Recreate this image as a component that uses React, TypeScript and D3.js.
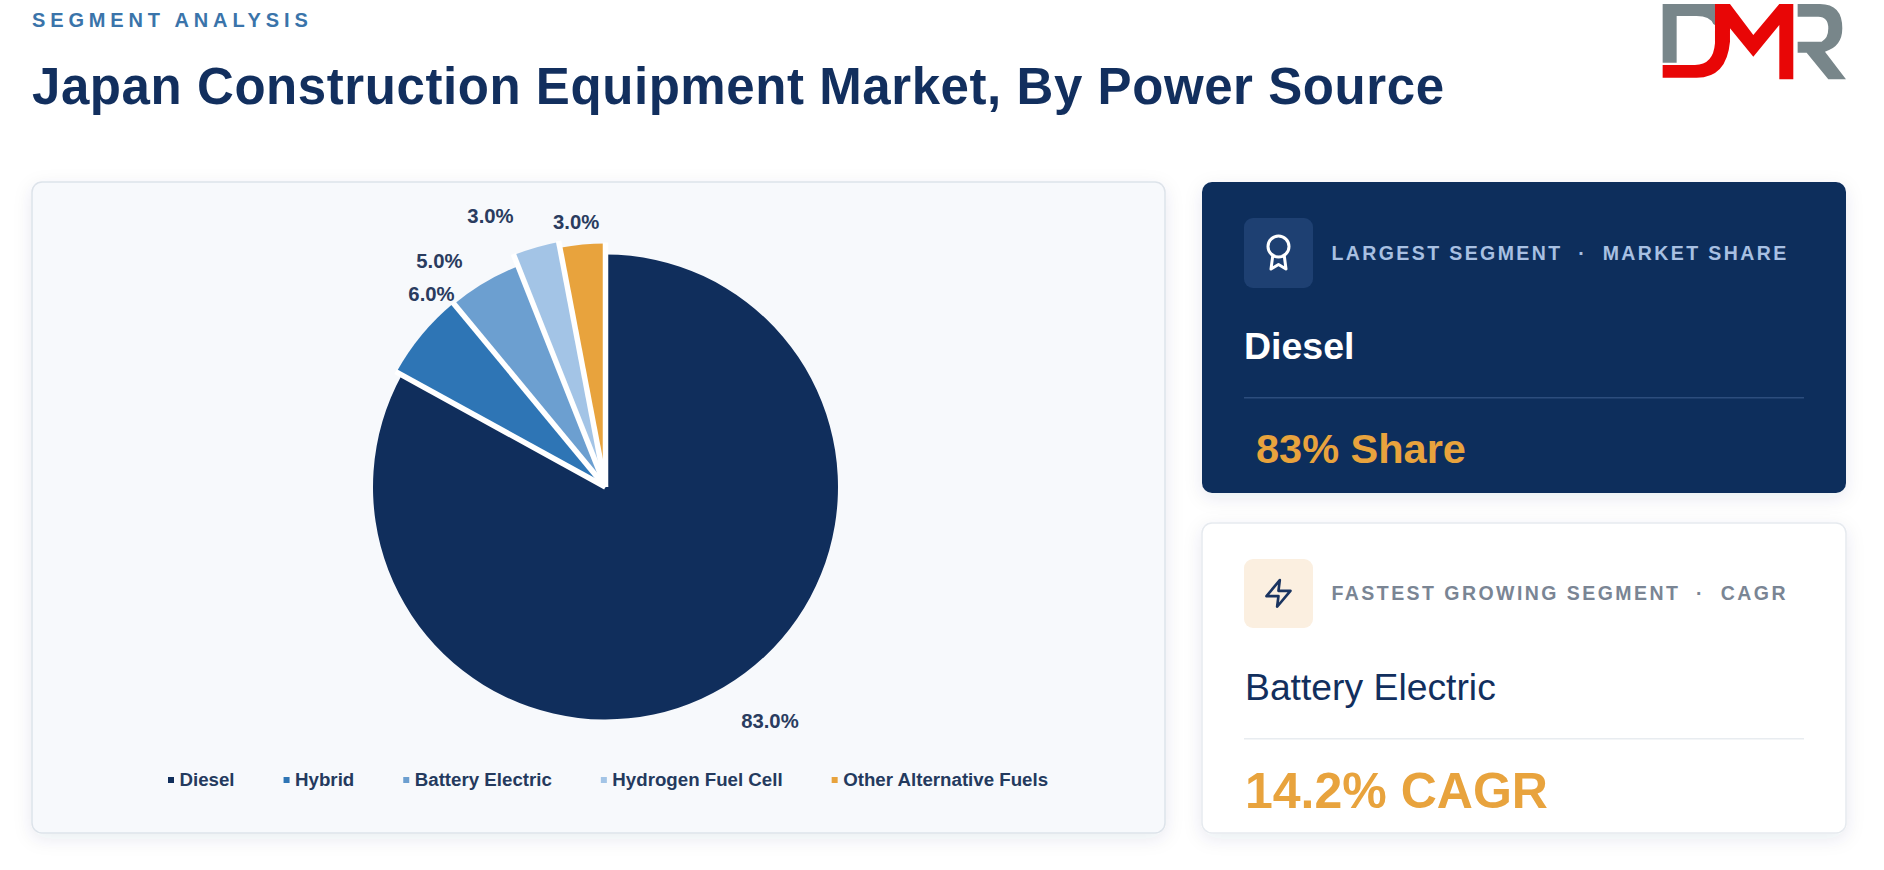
import React, { useEffect, useRef } from "react";
import * as d3 from "d3";

const categories = ["Diesel", "Hybrid", "Battery Electric", "Hydrogen Fuel Cell", "Other Alternative Fuels"];
const shares = [83, 6, 5, 3, 3];
const sliceColors = ["#102e5c", "#2e75b5", "#6c9fd0", "#a3c4e6", "#e8a33d"];

// how far each slice sticks out past the base radius
const sliceReach = [0, 6, 5, 17, 11];
// label tweaks, the source chart moved them apart to stop them colliding
const labelNudge = [
  [27, 1.5],
  [34, -21],
  [-28.6, 6.2],
  [-39.7, -11.4],
  [-3.9, 4.1],
];

const width = 1884;
const height = 870;
const navy = "#102e5c";
const amber = "#e8a33d";
const font = "'Liberation Sans', Arial, sans-serif";

const center = { x: 605.5, y: 487 };
const baseRadius = 232.5;
const labelRadius = 270;

export default function App(): JSX.Element {
  const ref = useRef<SVGSVGElement>(null);

  useEffect(() => {
    if (!ref.current) return;
    const svg = d3.select(ref.current);
    svg.selectAll("*").remove();

    const defs = svg.append("defs");
    defs
      .append("filter")
      .attr("id", "cardShadow")
      .attr("x", "-10%")
      .attr("y", "-15%")
      .attr("width", "120%")
      .attr("height", "130%")
      .append("feDropShadow")
      .attr("dx", 0)
      .attr("dy", 5)
      .attr("stdDeviation", 9)
      .attr("flood-color", "#1b3560")
      .attr("flood-opacity", 0.09);

    function addText(x: number, y: number, label: string, size: number, weight: string, fill: string, spacing = 0) {
      return svg
        .append("text")
        .attr("x", x)
        .attr("y", y)
        .attr("font-family", font)
        .attr("font-size", size)
        .attr("font-weight", weight)
        .attr("letter-spacing", spacing)
        .attr("fill", fill)
        .text(label);
    }

    function addCard(x: number, y: number, w: number, h: number, fill: string, stroke: string) {
      svg
        .append("rect")
        .attr("x", x)
        .attr("y", y)
        .attr("width", w)
        .attr("height", h)
        .attr("rx", 10)
        .attr("fill", fill)
        .attr("stroke", stroke)
        .attr("stroke-width", stroke === "none" ? 0 : 1.5)
        .attr("filter", "url(#cardShadow)");
    }

    // header
    addText(32, 27, "SEGMENT ANALYSIS", 20, "bold", "#3a74aa", 4.85);
    addText(32, 104, "Japan Construction Equipment Market, By Power Source", 51, "bold", "#122f5e", 0.57);

    // logo
    const logo = svg.append("g").attr("transform", "translate(1500,0) scale(0.3333)");
    logo
      .append("path")
      .attr("fill", "#78868a")
      .attr("d", "M488 12 H645 V75 L640 72 Q630 48 590 48 H530 V188 H488 Z");
    logo
      .append("path")
      .attr("fill", "#78868a")
      .attr(
        "d",
        "M893 12 H960 Q1027 12 1027 85 Q1027 140 975 155 L1038 238 H985 L920 158 H893 V125 H965 Q985 115 985 85 Q985 50 955 50 H893 Z"
      );
    logo
      .append("path")
      .attr("fill", "#e80606")
      .attr(
        "d",
        "M488 195 H585 Q640 195 645 130 V12 H690 L760 105 L838 12 H880 V238 H838 V75 L760 170 L690 85 V125 Q680 233 590 233 H488 Z"
      );

    // chart panel
    addCard(32, 182, 1133, 651, "#f7f9fc", "#dde3ea");

    const pie = d3
      .pie<number>()
      .sort(null)
      .value((d) => d);
    const arcs = pie(shares);
    const arc = d3
      .arc<d3.PieArcDatum<number>>()
      .innerRadius(0)
      .outerRadius((d) => baseRadius + sliceReach[d.index]);

    const pieGroup = svg.append("g").attr("transform", `translate(${center.x},${center.y})`);
    pieGroup
      .selectAll("path")
      .data(arcs)
      .enter()
      .append("path")
      .attr("d", arc)
      .attr("fill", (d) => sliceColors[d.index]);

    // white gaps only along the straight edges, as long as the taller neighbour
    const edgeLength = (i: number) =>
      baseRadius + Math.max(sliceReach[i], sliceReach[(i + sliceReach.length - 1) % sliceReach.length]) + 1;
    pieGroup
      .selectAll("line")
      .data(arcs)
      .enter()
      .append("line")
      .attr("x1", 0)
      .attr("y1", 0)
      .attr("x2", (d) => d3.pointRadial(d.startAngle, edgeLength(d.index))[0])
      .attr("y2", (d) => d3.pointRadial(d.startAngle, edgeLength(d.index))[1])
      .attr("stroke", "#ffffff")
      .attr("stroke-width", 5.5);

    const labelArc = d3
      .arc<d3.PieArcDatum<number>>()
      .innerRadius(labelRadius)
      .outerRadius(labelRadius);

    pieGroup
      .selectAll("text")
      .data(arcs)
      .enter()
      .append("text")
      .attr("x", (d) => labelArc.centroid(d)[0] + labelNudge[d.index][0])
      .attr("y", (d) => labelArc.centroid(d)[1] + labelNudge[d.index][1])
      .attr("dy", "0.35em")
      .attr("text-anchor", "middle")
      .attr("font-family", font)
      .attr("font-size", 20.3)
      .attr("font-weight", "bold")
      .attr("fill", "#2a3c5f")
      .text((d) => `${d.data.toFixed(1)}%`);

    // legend, items are laid out one after the other from the text widths
    let legendX = 168;
    categories.forEach((name, i) => {
      svg
        .append("rect")
        .attr("x", legendX)
        .attr("y", 777)
        .attr("width", 6)
        .attr("height", 6)
        .attr("fill", sliceColors[i]);
      const label = addText(legendX + 11.5, 786, name, 18.7, "bold", "#243a5e");
      const w = (label.node() as SVGTextElement).getComputedTextLength();
      legendX += 11.5 + w + 49;
    });

    // top card
    addCard(1202, 182, 644, 311, navy, "none");
    svg
      .append("rect")
      .attr("x", 1244)
      .attr("y", 218)
      .attr("width", 69)
      .attr("height", 70)
      .attr("rx", 9)
      .attr("fill", "#1e4072");
    const award = svg
      .append("g")
      .attr("transform", "translate(1260.5,234.5) scale(1.5)")
      .attr("fill", "none")
      .attr("stroke", "#ffffff")
      .attr("stroke-width", 2)
      .attr("stroke-linecap", "round")
      .attr("stroke-linejoin", "round");
    award.append("circle").attr("cx", 12).attr("cy", 8).attr("r", 7);
    award.append("polyline").attr("points", "8.21 13.89 7 23 12 20 17 23 15.79 13.88");

    addText(1331.5, 260, "LARGEST SEGMENT \u00a0·\u00a0 MARKET SHARE", 19.5, "bold", "#a8c0e2", 2.4);
    addText(1244, 359, "Diesel", 37.5, "bold", "#ffffff");
    svg
      .append("rect")
      .attr("x", 1244)
      .attr("y", 397)
      .attr("width", 560)
      .attr("height", 1.5)
      .attr("fill", "#2c4d7d");
    addText(1256, 463, "83% Share", 41.5, "bold", amber);

    // bottom card
    addCard(1202, 523, 644, 310, "#ffffff", "#e6eaef");
    svg
      .append("rect")
      .attr("x", 1244)
      .attr("y", 559)
      .attr("width", 69)
      .attr("height", 69)
      .attr("rx", 9)
      .attr("fill", "#fbefe0");
    svg
      .append("polygon")
      .attr("transform", "translate(1262.5,577.5) scale(1.33)")
      .attr("points", "13 2 3 14 12 14 11 22 21 10 12 10 13 2")
      .attr("fill", "none")
      .attr("stroke", "#1a3460")
      .attr("stroke-width", 2)
      .attr("stroke-linejoin", "round");

    addText(1331.5, 600, "FASTEST GROWING SEGMENT \u00a0·\u00a0 CAGR", 19.5, "bold", "#7a8594", 2.45);
    addText(1245, 700, "Battery Electric", 37.3, "normal", "#122f5e");
    svg
      .append("rect")
      .attr("x", 1244)
      .attr("y", 738)
      .attr("width", 560)
      .attr("height", 1.5)
      .attr("fill", "#e8ecf0");
    addText(1245, 808, "14.2% CAGR", 50, "bold", amber);
  }, []);

  return (
    <svg
      ref={ref}
      width={width}
      height={height}
      style={{ position: "absolute", left: 0, top: 0, background: "#ffffff" }}
    ></svg>
  );
}
